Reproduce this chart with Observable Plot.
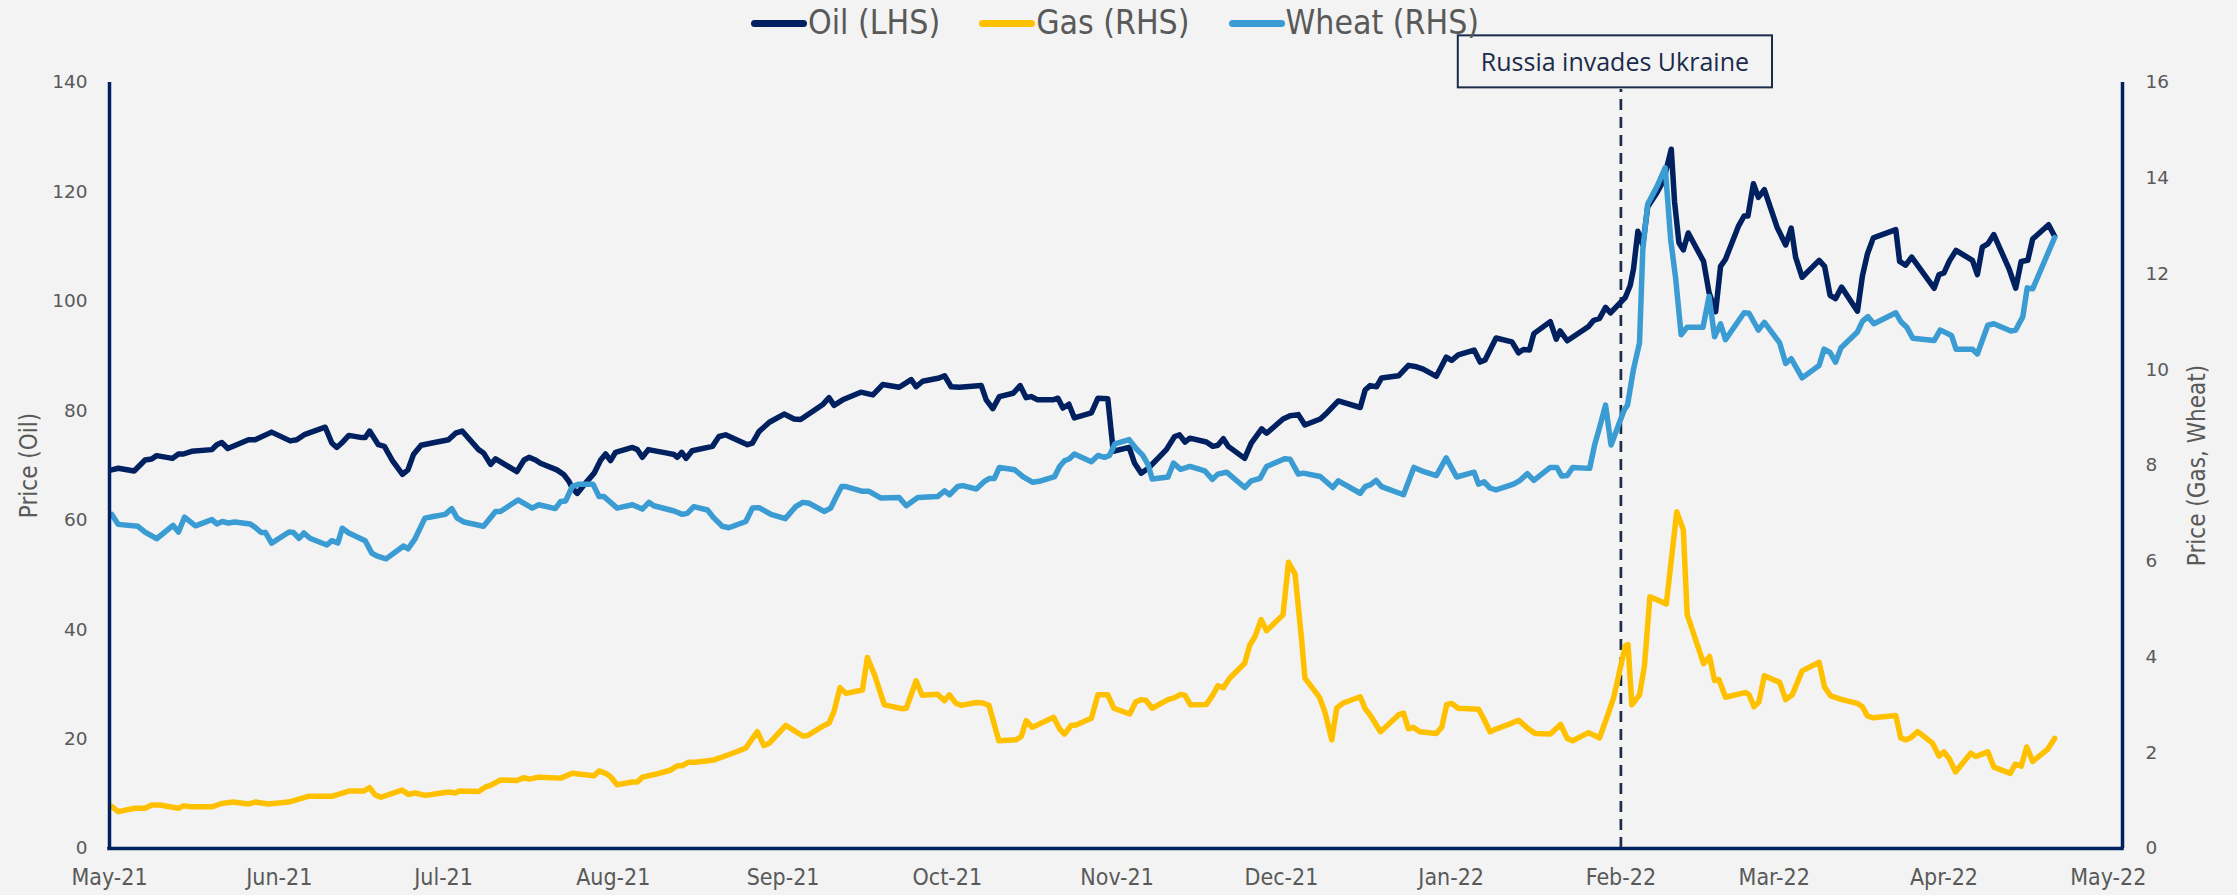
<!DOCTYPE html>
<html>
<head>
<meta charset="utf-8">
<script src="https://cdn.jsdelivr.net/npm/d3@7"></script>
<script src="https://cdn.jsdelivr.net/npm/@observablehq/plot@0.6"></script>
<style>
  html, body { margin: 0; padding: 0; background: #F2F3F2; }
  #wrap { position: relative; width: 2237px; height: 895px; overflow: hidden; }
  #legend { position: relative; height: 34px; }
  #legend .row { position: absolute; top: 0; left: 751px; height: 46px; display: flex; align-items: center; white-space: nowrap; }
  #legend .item { display: flex; align-items: center; margin-right: 39px; }
  #legend .sw { display: inline-block; width: 56px; height: 7px; border-radius: 4px; margin-right: 1px; }
  #legend .lab { font-family: "Liberation Sans Narrow", "Arial Narrow", "DejaVu Sans Condensed", sans-serif; font-stretch: condensed; font-size: 33.5px; line-height: 1; color: #595959; }
</style>
</head>
<body>
<div id="wrap">
  <div id="legend"><div class="row"></div></div>
  <div id="chart"></div>
</div>
<script>
// ---- Data (days since 1 May 2021) ----
const seriesNames = ["Oil (LHS)", "Gas (RHS)", "Wheat (RHS)"];
const seriesColors = ["#002060", "#FFC000", "#3B9BD3"];

const oilDays = [0.4,1.6,4.5,6.5,7.7,8.6,11.5,12.6,13.5,15.0,18.7,19.6,20.5,21.6,25.4,26.6,29.6,33.0,34.2,35.7,39.4,40.6,41.5,42.4,43.7,46.1,46.7,47.5,49.1,50.2,51.6,53.5,54.5,55.5,56.9,
  58.9,61.9,63.2,64.4,67.4,68.3,69.6,70.5,74.4,75.7,76.6,77.8,78.7,81.7,83.0,83.9,84.5,85.4,87.2,88.5,89.7,90.6,91.5,92.4,95.5,96.4,97.3,98.4,101.6,103.1,103.7,104.5,105.3,106.4,110.1,111.3,112.5,116.5,117.4,118.6,
  120.5,123.2,125.0,126.2,130.2,131.4,132.3,133.9,137.2,139.4,141.2,144.2,146.4,147.3,148.5,151.5,152.5,153.7,155.2,159.2,160.1,161.3,162.5,165.0,166.3,167.4,168.3,169.5,172.3,173.2,174.1,175.2,176.2,179.3,
  180.5,182.3,183.3,186.2,187.2,188.4,189.7,193.0,194.5,195.4,196.4,197.3,200.3,201.5,202.4,203.4,204.3,207.3,208.5,210.4,211.3,214.3,215.6,217.1,218.3,221.1,222.3,224.4,228.4,229.3,230.2,231.4,232.3,235.4,237.2,238.4,
  239.9,242.3,244.1,245.1,246.3,249.2,250.3,251.2,253.2,256.1,257.3,258.2,259.3,260.1,263.1,264.2,264.9,266.2,270.1,271.0,272.1,273.2,274.1,276.8,277.7,278.3,279.1,280.0,280.9,282.6,283.8,285.2,285.8,286.6,287.4,288.3,291.1,292.1,293.3,294.2,295.1,297.5,298.5,299.2,300.2,301.1,302.2,
  304.5,306.1,307.1,307.9,309.1,312.2,313.2,314.2,315.2,316.3,319.2,320.1,321.0,322.1,326.2,326.9,328.0,329.1,333.2,334.1,335.0,336.0,337.2,340.2,341.1,342.0,343.0,344.1,346.9,348.1,349.1,350.3,351.2,354.1,355.2];
const oilPrice = [69.2,69.5,69.0,71.0,71.2,71.8,71.3,72.1,72.1,72.6,72.9,73.8,74.2,73.1,74.7,74.7,76.1,74.5,74.7,75.7,77.0,74.1,73.3,74.1,75.5,75.1,75.1,76.3,73.8,73.5,71.0,68.4,69.2,72.0,73.7,
  74.1,74.7,75.9,76.3,72.9,72.3,70.2,71.2,68.9,71.0,71.5,71.0,70.4,69.2,68.3,67.1,65.9,64.9,67.1,68.6,71.0,72.1,70.9,72.4,73.3,72.9,71.5,72.9,72.3,72.0,71.5,72.4,71.3,72.7,73.5,75.3,75.6,73.8,74.1,76.2,
  77.9,79.4,78.5,78.4,81.1,82.4,81.0,82.0,83.4,82.9,84.8,84.3,85.7,84.4,85.4,86.0,86.4,84.4,84.3,84.6,82.0,80.4,82.6,83.2,84.6,82.4,82.6,82.0,82.0,82.3,80.5,81.2,78.7,79.6,
  82.3,82.2,72.6,73.3,70.4,68.6,69.5,72.9,75.3,75.6,74.3,75.0,74.3,73.5,73.7,74.9,73.5,71.3,74.1,76.7,75.9,78.5,79.1,79.3,77.4,78.5,79.6,81.8,80.6,83.8,84.6,84.4,86.0,86.4,88.3,88.1,
  87.6,86.3,89.8,89.2,90.2,91.1,88.9,89.3,93.3,92.6,90.6,91.2,91.1,94.1,96.3,93.1,94.6,92.8,95.4,96.5,96.9,98.9,97.9,100.7,102.9,105.9,112.8,110.3,117.3,119.9,122.1,127.8,118.2,110.7,109.4,112.5,107.3,101.6,98.1,106.4,107.7,113.8,115.6,115.6,121.5,119.0,120.4,
  113.6,110.3,113.4,108.1,104.4,107.5,106.4,101.1,100.5,102.6,98.2,104.6,108.6,111.6,113.1,107.3,106.6,108.1,102.4,104.9,105.2,107.4,109.3,107.5,104.9,109.9,110.5,112.2,105.9,102.4,107.3,107.5,111.4,114.0,111.9];

const gasDays = [0.4,1.6,4.6,6.5,7.7,9.2,12.6,13.5,15.0,18.7,20.5,22.6,25.4,26.6,29.0,32.7,36.3,40.6,43.7,46.4,47.5,48.5,49.6,53.4,54.6,55.8,57.7,
  60.7,61.9,63.2,63.8,67.4,68.6,69.6,71.4,74.4,75.7,76.6,78.4,82.4,84.5,88.5,89.4,90.6,91.5,92.7,95.5,96.4,97.3,99.7,102.5,103.7,104.6,105.7,107.0,110.4,113.8,116.2,118.3,119.5,120.5,
  123.5,126.6,127.5,130.2,131.4,132.3,133.4,134.5,137.5,138.4,139.7,141.5,144.8,145.5,147.3,148.4,151.2,152.5,153.4,154.5,155.5,158.3,159.5,160.6,162.4,165.5,166.5,167.4,168.5,172.4,173.5,174.4,175.6,176.5,179.3,180.5,
  182.3,183.4,186.3,187.4,188.4,189.3,190.4,193.3,194.5,195.6,196.4,197.4,200.3,201.5,202.4,203.4,204.6,207.3,208.2,209.2,210.3,211.3,214.3,215.3,216.5,217.7,218.3,221.0,222.0,223.2,224.1,225.3,228.4,229.3,230.2,232.1,235.4,236.3,237.2,238.1,239.3,
  242.3,243.3,244.2,245.1,246.3,250.0,250.9,252.1,253.3,256.1,257.3,259.1,260.4,263.1,265.0,266.2,267.2,270.1,272.1,273.7,274.7,276.8,277.3,278.0,279.4,280.3,281.3,284.3,286.2,287.4,288.1,291.1,292.2,293.1,293.9,295.1,298.8,299.4,300.3,301.2,302.2,
  305.0,306.1,307.3,309.1,312.2,313.2,314.3,316.4,319.2,320.1,321.0,322.1,326.2,327.1,328.0,328.9,330.2,332.9,334.1,335.0,336.0,337.1,339.9,340.8,343.0,344.1,347.1,348.0,349.1,350.1,351.2,353.9,355.2];
const gasPrice = [0.88,0.77,0.84,0.84,0.91,0.91,0.84,0.89,0.87,0.87,0.94,0.97,0.93,0.97,0.93,0.97,1.09,1.09,1.20,1.20,1.27,1.12,1.07,1.22,1.13,1.16,1.11,
  1.16,1.18,1.16,1.20,1.19,1.28,1.32,1.43,1.42,1.48,1.45,1.49,1.47,1.57,1.52,1.62,1.57,1.50,1.33,1.39,1.39,1.49,1.55,1.64,1.73,1.73,1.80,1.80,1.85,1.99,2.10,2.44,2.15,2.20,
  2.57,2.35,2.36,2.55,2.62,2.86,3.36,3.24,3.31,3.99,3.63,3.00,2.92,2.93,3.50,3.20,3.22,3.09,3.21,3.04,2.99,3.05,3.04,2.99,2.25,2.27,2.34,2.67,2.53,2.74,2.50,2.39,2.57,2.58,2.72,3.21,
  3.21,2.93,2.81,3.06,3.11,3.09,2.93,3.11,3.15,3.22,3.20,3.00,3.01,3.21,3.40,3.36,3.56,3.87,4.24,4.43,4.78,4.55,4.88,5.98,5.73,4.36,3.56,3.15,2.83,2.27,2.93,3.04,3.17,2.92,2.79,2.44,2.79,2.83,2.50,2.53,2.44,
  2.40,2.54,3.01,3.03,2.93,2.91,2.72,2.44,2.50,2.62,2.68,2.50,2.40,2.39,2.59,2.30,2.25,2.42,2.31,2.82,3.16,4.23,4.26,3.00,3.21,3.81,5.26,5.11,7.03,6.66,4.89,3.86,4.01,3.51,3.53,3.16,3.26,3.21,2.96,3.06,3.61,
  3.47,3.11,3.21,3.71,3.89,3.37,3.19,3.11,3.03,2.96,2.77,2.73,2.78,2.31,2.27,2.31,2.44,2.20,1.93,2.02,1.87,1.60,1.99,1.92,2.02,1.70,1.57,1.76,1.72,2.12,1.82,2.07,2.30];

const wheatDays = [0.4,1.6,5.2,6.5,8.6,11.6,12.6,13.7,15.7,18.7,19.6,20.6,21.7,22.9,25.7,26.7,27.7,28.5,29.6,32.8,33.6,34.6,35.5,36.6,39.7,40.6,41.7,42.5,43.7,46.7,47.9,48.8,50.5,53.7,54.5,55.7,57.6,
  58.9,61.3,62.5,63.5,64.7,68.3,70.5,71.4,74.6,77.2,78.4,81.4,82.4,83.3,84.5,85.7,88.3,89.4,90.3,92.7,95.5,97.3,98.5,99.4,103.1,104.6,105.5,106.7,109.2,110.4,111.9,113.1,116.2,117.4,118.6,
  120.8,123.4,125.3,126.6,127.8,130.5,131.7,132.6,133.7,134.5,137.5,138.7,140.9,144.2,145.5,147.6,151.2,152.5,153.4,154.9,155.8,158.3,159.8,160.7,161.6,162.5,165.3,166.8,168.6,169.8,172.6,173.5,174.4,175.3,176.2,179.3,180.5,
  181.7,182.6,183.6,186.2,187.5,188.7,189.7,190.4,193.3,194.3,195.6,197.3,200.0,201.4,202.4,204.0,207.3,208.5,210.1,211.3,214.6,215.6,217.1,218.0,221.1,223.4,224.4,225.6,228.4,229.3,230.3,231.3,232.3,236.3,238.2,239.6,
  242.3,244.1,246.0,249.2,250.0,251.0,252.1,253.2,256.4,257.6,258.9,260.1,263.1,264.3,265.2,266.2,267.2,270.3,271.2,271.9,273.2,274.2,276.6,277.2,278.3,279.4,280.0,280.9,282.6,284.1,285.1,286.0,287.0,288.1,291.0,292.1,293.1,294.2,295.1,298.5,299.4,301.1,302.2,
  305.0,306.1,307.1,309.1,312.2,313.1,314.2,315.2,316.2,319.2,320.1,321.1,322.2,326.2,327.1,328.2,329.3,333.2,334.3,335.6,336.4,337.2,340.2,341.1,343.0,344.1,347.2,348.1,349.4,350.2,351.2,355.2];
const wheatPrice = [6.98,6.77,6.73,6.61,6.47,6.75,6.61,6.92,6.74,6.87,6.78,6.83,6.80,6.82,6.78,6.70,6.60,6.60,6.38,6.61,6.60,6.48,6.59,6.48,6.34,6.43,6.38,6.69,6.59,6.43,6.17,6.11,6.05,6.32,6.26,6.45,6.90,
  6.93,6.98,7.10,6.90,6.82,6.73,7.04,7.04,7.28,7.11,7.18,7.10,7.25,7.26,7.56,7.61,7.61,7.35,7.35,7.11,7.18,7.09,7.23,7.16,7.05,6.98,7.00,7.14,7.07,6.90,6.73,6.70,6.83,7.11,7.12,
  6.98,6.89,7.14,7.23,7.21,7.04,7.11,7.32,7.56,7.56,7.46,7.46,7.32,7.33,7.16,7.33,7.35,7.47,7.39,7.56,7.58,7.51,7.67,7.73,7.73,7.96,7.91,7.77,7.65,7.67,7.77,7.98,8.10,8.14,8.24,8.08,8.21,
  8.17,8.21,8.45,8.54,8.35,8.21,8.01,7.72,7.76,8.05,7.92,7.98,7.89,7.71,7.82,7.86,7.54,7.68,7.73,7.98,8.14,8.13,7.82,7.84,7.77,7.54,7.68,7.60,7.42,7.56,7.60,7.69,7.56,7.39,7.96,7.89,
  7.79,8.16,7.76,7.86,7.61,7.66,7.53,7.49,7.61,7.69,7.83,7.69,7.96,7.96,7.78,7.79,7.96,7.94,8.43,8.71,9.26,8.43,9.16,9.26,10.01,10.56,12.51,13.46,13.83,14.22,12.71,11.91,10.73,10.89,10.89,11.53,10.69,10.96,10.63,11.19,11.18,10.83,10.99,
  10.56,10.13,10.23,9.83,10.09,10.43,10.36,10.16,10.46,10.79,11.01,11.11,10.96,11.19,11.01,10.89,10.66,10.61,10.83,10.76,10.71,10.43,10.43,10.33,10.93,10.96,10.81,10.83,11.11,11.71,11.69,12.76];

const monthTicks = ["2021-05-01","2021-06-01","2021-07-01","2021-08-01","2021-09-01","2021-10-01","2021-11-01","2021-12-01","2022-01-01","2022-02-01","2022-03-01","2022-04-01","2022-05-01"];
const leftTicks = [0,20,40,60,80,100,120,140];
const rightTicks = [0,2,4,6,8,10,12,14,16];
const axisTitles = ["Price (Oil)", "Price (Gas, Wheat)"];
const annotationDate = "2022-02-01";
const annotationLabel = "Russia invades Ukraine";

// ---- Build ----
const startMs = Date.UTC(2021, 4, 1);
const toDate = d => new Date(startMs + d * 864e5);
const k = 140 / 16; // right axis -> left axis units
const oil = oilDays.map((d, i) => ({date: toDate(d), v: oilPrice[i]}));
const gas = gasDays.map((d, i) => ({date: toDate(d), v: gasPrice[i] * k}));
const wheat = wheatDays.map((d, i) => ({date: toDate(d), v: wheatPrice[i] * k}));
const xStart = new Date(startMs);
const xEnd = toDate(367.6);
const annDate = new Date(annotationDate + "T00:00:00Z");

const NARROW = '"Liberation Sans Narrow", "Arial Narrow", "DejaVu Sans Condensed", sans-serif';
const TICKFONT = '"DejaVu Sans", Verdana, sans-serif';
const NAVY = "#002060";
const ANN = "#1c2b4a";
const GREY = "#595959";
const LW = 5.5;

// legend
const row = document.querySelector("#legend .row");
seriesNames.forEach((n, i) => {
  const it = document.createElement("div"); it.className = "item";
  const sw = document.createElement("span"); sw.className = "sw"; sw.style.background = seriesColors[i];
  const lb = document.createElement("span"); lb.className = "lab"; lb.textContent = n;
  it.appendChild(sw); it.appendChild(lb); row.appendChild(it);
});

const H = 861;
const plot = Plot.plot({
  width: 2237,
  height: H,
  marginLeft: 109,
  marginRight: 115,
  marginTop: 48,
  marginBottom: 47,
  style: {background: "transparent", overflow: "visible"},
  x: {type: "utc", domain: [xStart, xEnd]},
  y: {domain: [0, 140]},
  marks: [
    Plot.axisX(monthTicks.map(s => new Date(s + "T00:00:00Z")), {tickSize: 0, tickPadding: 20, tickFormat: d3.utcFormat("%b-%y"), fontFamily: NARROW, fontSize: 23, fill: GREY, label: null}),
    Plot.axisY(leftTicks, {anchor: "left", tickSize: 0, tickPadding: 22, fontFamily: TICKFONT, fontSize: 18.5, fill: GREY, label: null}),
    Plot.axisY(rightTicks.map(v => v * k), {anchor: "right", tickSize: 0, tickPadding: 23, tickFormat: d => String(Math.round(d / k)), fontFamily: TICKFONT, fontSize: 18.5, fill: GREY, label: null}),
    Plot.text([axisTitles[0]], {frameAnchor: "left", textAnchor: "middle", rotate: -90, dx: -80, fontFamily: NARROW, fontSize: 24, fill: GREY}),
    Plot.text([axisTitles[1]], {frameAnchor: "right", textAnchor: "middle", rotate: -90, dx: 75, fontFamily: NARROW, fontSize: 24, fill: GREY}),
    Plot.ruleX([annDate], {y1: 0, y2: 138.7, stroke: ANN, strokeWidth: 2.7, strokeDasharray: "11,7"}),
    Plot.line(oil, {x: "date", y: "v", stroke: seriesColors[0], strokeWidth: LW, strokeLinejoin: "round", strokeLinecap: "round"}),
    Plot.line(gas, {x: "date", y: "v", stroke: seriesColors[1], strokeWidth: LW, strokeLinejoin: "round", strokeLinecap: "round"}),
    Plot.line(wheat, {x: "date", y: "v", stroke: seriesColors[2], strokeWidth: LW, strokeLinejoin: "round", strokeLinecap: "round"}),
    Plot.ruleX([xStart, xEnd], {y1: 0, y2: 140, stroke: NAVY, strokeWidth: 3.5}),
    Plot.ruleY([0], {x1: xStart, x2: xEnd, stroke: NAVY, strokeWidth: 3.5, strokeLinecap: "square"}),
    Plot.text([annotationLabel], {x: () => annDate, y: () => 143.5, dx: -6, text: d => d, fontFamily: '"Open Sans", sans-serif', fontSize: 25, fill: ANN})
  ]
});
document.getElementById("chart").appendChild(plot);

// box around the annotation text
const svg = plot.tagName.toLowerCase() === "svg" ? plot : plot.querySelector("svg");
const tnode = Array.from(svg.querySelectorAll("text")).find(t => t.textContent === annotationLabel);
if (tnode) {
  const r = tnode.getBoundingClientRect();
  const s = svg.getBoundingClientRect();
  const padX = 23;
  const tx = r.left - s.left, ty = r.top - s.top;
  const cy = ty + r.height / 2;
  const boxH = 52;
  const grp = tnode.closest("g") || svg;
  const rect = document.createElementNS("http://www.w3.org/2000/svg", "rect");
  rect.setAttribute("x", tx - padX);
  rect.setAttribute("y", cy - boxH / 2);
  rect.setAttribute("width", r.width + 2 * padX);
  rect.setAttribute("height", boxH);
  rect.setAttribute("fill", "#F2F3F2");
  rect.setAttribute("stroke", ANN);
  rect.setAttribute("stroke-width", 2);
  svg.insertBefore(rect, grp.parentNode === svg ? grp : null);
  if (grp.parentNode !== svg) svg.appendChild(tnode.cloneNode(true));
}
</script>
</body>
</html>
